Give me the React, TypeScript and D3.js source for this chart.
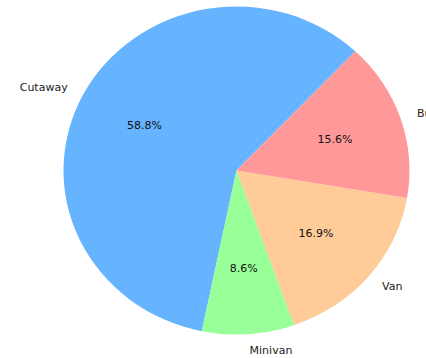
import React from "react";
import * as d3 from "d3";

const categories = ["Cutaway", "Minivan", "Van", "Bus"];
const shares = [58.84, 8.62, 16.91, 15.63];
const colors = ["#66b3ff", "#99ff99", "#ffcc99", "#ff9999"];

const W = 426;
const H = 358;
const cx = 236.5;
const cy = 170.5;
const rx = 173;
const ry = 164;
const startDeg = 46.6; // matplotlib-style start angle (CCW from +x)

export default function App() {
  const start = ((90 - startDeg) * Math.PI) / 180;
  const pie = d3
    .pie<number>()
    .sort(null)
    .value((d) => d)
    .startAngle(start)
    .endAngle(start - 2 * Math.PI);
  const arcs = pie(shares);
  const arcGen = d3.arc<d3.PieArcDatum<number>>().innerRadius(0).outerRadius(rx);
  const total = d3.sum(shares);

  return (
    <svg
      width={W}
      height={H}
      style={{ position: "absolute", left: 0, top: 0, background: "#fff" }}
      fontFamily="DejaVu Sans, sans-serif"
    >
      <g transform={`translate(${cx},${cy}) scale(1,${ry / rx})`}>
        {arcs.map((a, i) => (
          <path key={i} d={arcGen(a) || ""} fill={colors[i]} />
        ))}
      </g>
      {arcs.map((a, i) => {
        const mid = (a.startAngle + a.endAngle) / 2;
        const sx = Math.sin(mid);
        const sy = -Math.cos(mid);
        const lx = cx + 1.1 * rx * sx;
        const ly = cy + 1.1 * ry * sy;
        const px = cx + 0.6 * rx * sx;
        const py = cy + 0.6 * ry * sy;
        return (
          <g key={i}>
            <text
              x={lx}
              y={ly}
              fontSize={11}
              fill="#222"
              textAnchor={sx >= 0 ? "start" : "end"}
              dominantBaseline="central"
            >
              {categories[i]}
            </text>
            <text
              x={px}
              y={py}
              fontSize={11}
              fill="#111"
              textAnchor="middle"
              dominantBaseline="central"
            >
              {((a.data / total) * 100).toFixed(1)}%
            </text>
          </g>
        );
      })}
    </svg>
  );
}
